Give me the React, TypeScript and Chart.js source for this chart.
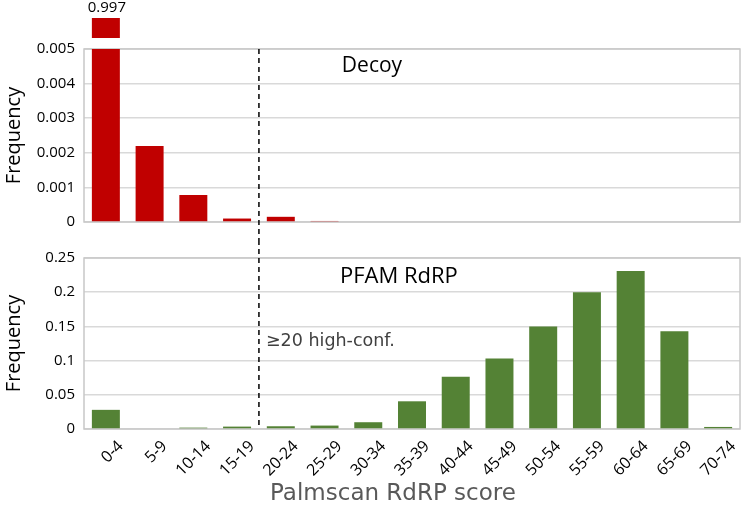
import React, { useEffect, useRef } from "react";
import { Chart, registerables } from "chart.js";

Chart.register(...registerables);

const categories = ["0-4", "5-9", "10-14", "15-19", "20-24", "25-29", "30-34", "35-39", "40-44", "45-49", "50-54", "55-59", "60-64", "65-69", "70-74"];
const decoyFreq = [0.997, 0.0022, 0.00078, 0.0001, 0.00015, 0.00003, 0, 0, 0, 0, 0, 0, 0, 0, 0];
const pfamFreq = [0.028, 0, 0.002, 0.0035, 0.004, 0.005, 0.0099, 0.0405, 0.0765, 0.103, 0.15, 0.2, 0.231, 0.143, 0.003];
const decoyMax = 0.005;
const decoyStep = 0.001;
const pfamMax = 0.25;
const pfamStep = 0.05;
const thresholdIndex = 4; // first category of the high-confidence region ("20-24")
const decoyLabel = "Decoy";
const pfamLabel = "PFAM RdRP";
const thresholdLabel = "\u226520 high-conf.";
const xTitle = "Palmscan RdRP score";
const yTitle = "Frequency";

const RED = "#C00000";
const GREEN = "#548235";
const GRID = "#D9D9D9";
const FRAME = "#C8C8C8";
const OPEN = "'Open Sans', sans-serif";
const DEJA = "'DejaVu Sans', sans-serif";

function thresholdX(chart: any) {
  const x = chart.scales.x;
  return (x.getPixelForValue(thresholdIndex - 1) + x.getPixelForValue(thresholdIndex)) / 2;
}

function framePlugin(isTop: boolean) {
  return {
    id: "frame" + (isTop ? "Top" : "Bottom"),
    beforeDatasetsDraw(chart: any) {
      const { ctx, chartArea: a } = chart;
      ctx.save();
      ctx.strokeStyle = FRAME;
      ctx.lineWidth = 1.5;
      ctx.strokeRect(a.left, a.top, a.right - a.left, a.bottom - a.top);
      ctx.restore();
    },
    afterDatasetsDraw(chart: any) {
      const { ctx, chartArea: a } = chart;
      const bx = thresholdX(chart);
      ctx.save();
      ctx.strokeStyle = "#000";
      ctx.lineWidth = 1.5;
      ctx.setLineDash([5, 4]);
      ctx.beginPath();
      ctx.moveTo(bx, isTop ? a.top : 0);
      ctx.lineTo(bx, isTop ? chart.height : a.bottom);
      ctx.stroke();
      ctx.restore();
    },
  };
}

const topExtras = {
  id: "topExtras",
  afterDatasetsDraw(chart: any) {
    const { ctx, chartArea: a } = chart;
    const y = chart.scales.y;
    const meta = chart.getDatasetMeta(0);
    ctx.save();
    decoyFreq.forEach((v, i) => {
      if (v > decoyMax) {
        const el: any = meta.data[i];
        const w = el.width;
        ctx.fillStyle = RED;
        ctx.fillRect(el.x - w / 2, a.top - 31, w, 20);
        ctx.fillStyle = "#000";
        ctx.font = `15px ${OPEN}`;
        ctx.textAlign = "center";
        ctx.textBaseline = "middle";
        ctx.fillText(String(v), el.x + 1, a.top - 41);
      }
    });
    ctx.fillStyle = "#000";
    ctx.font = `21px ${OPEN}`;
    ctx.textAlign = "center";
    ctx.textBaseline = "middle";
    ctx.fillText(decoyLabel, a.left + 0.439 * (a.right - a.left), y.getPixelForValue(0.0045));
    ctx.restore();
  },
};

const bottomExtras = {
  id: "bottomExtras",
  afterDatasetsDraw(chart: any) {
    const { ctx, chartArea: a } = chart;
    const y = chart.scales.y;
    ctx.save();
    ctx.fillStyle = "#000";
    ctx.font = `22px ${OPEN}`;
    ctx.textAlign = "center";
    ctx.textBaseline = "middle";
    ctx.fillText(pfamLabel, a.left + 0.48 * (a.right - a.left), y.getPixelForValue(0.222));
    ctx.fillStyle = "#404040";
    ctx.font = `17.5px ${DEJA}`;
    ctx.textAlign = "left";
    ctx.fillText(thresholdLabel, thresholdX(chart) + 7, y.getPixelForValue(0.128));
    ctx.fillStyle = "#595959";
    ctx.font = `23px ${DEJA}`;
    ctx.textAlign = "center";
    ctx.fillText(xTitle, a.left + 0.471 * (a.right - a.left), chart.height - 16);
    ctx.restore();
  },
};

function fmt(digits: number) {
  return (v: any) => (Number(v) === 0 ? "0" : String(+Number(v).toFixed(digits)));
}

export default function App() {
  const topRef = useRef<HTMLCanvasElement>(null);
  const botRef = useRef<HTMLCanvasElement>(null);

  useEffect(() => {
    const top = new Chart(topRef.current as HTMLCanvasElement, {
      type: "bar",
      data: {
        labels: categories,
        datasets: [
          {
            data: decoyFreq.map((v) => Math.min(v, decoyMax)),
            backgroundColor: RED,
            categoryPercentage: 1,
            barPercentage: 0.64,
          },
        ],
      },
      options: {
        responsive: false,
        animation: false,
        layout: { padding: { top: 49, bottom: 14, right: 5, left: 0 } },
        plugins: { legend: { display: false }, tooltip: { enabled: false } },
        scales: {
          x: { display: false },
          y: {
            min: 0,
            max: decoyMax,
            ticks: { stepSize: decoyStep, callback: fmt(3), font: { family: OPEN, size: 15 }, color: "#000", padding: 9 },
            grid: { color: GRID, lineWidth: 1.5, drawTicks: false },
            border: { display: false },
            title: { display: true, text: yTitle, font: { family: OPEN, size: 20 }, color: "#000", padding: { top: 2, bottom: 0 } },
            afterFit: (s: any) => {
              s.width = 84;
            },
          },
        },
      } as any,
      plugins: [framePlugin(true), topExtras],
    });

    const bot = new Chart(botRef.current as HTMLCanvasElement, {
      type: "bar",
      data: {
        labels: categories,
        datasets: [
          {
            data: pfamFreq,
            backgroundColor: GREEN,
            categoryPercentage: 1,
            barPercentage: 0.64,
          },
        ],
      },
      options: {
        responsive: false,
        animation: false,
        layout: { padding: { top: 12, bottom: 0, right: 5, left: 0 } },
        plugins: { legend: { display: false }, tooltip: { enabled: false } },
        scales: {
          x: {
            grid: { display: false },
            border: { display: false },
            ticks: {
              minRotation: 45,
              maxRotation: 45,
              autoSkip: false,
              font: { family: OPEN, size: 16 },
              color: "#000",
              padding: 0,
              labelOffset: 15,
            },
            afterFit: (s: any) => {
              s.height = 81;
            },
          },
          y: {
            min: 0,
            max: pfamMax,
            ticks: { stepSize: pfamStep, callback: fmt(2), font: { family: OPEN, size: 15 }, color: "#000", padding: 9 },
            grid: { color: GRID, lineWidth: 1.5, drawTicks: false },
            border: { display: false },
            title: { display: true, text: yTitle, font: { family: OPEN, size: 20 }, color: "#000", padding: { top: 2, bottom: 0 } },
            afterFit: (s: any) => {
              s.width = 84;
            },
          },
        },
      } as any,
      plugins: [framePlugin(false), bottomExtras],
    });

    return () => {
      top.destroy();
      bot.destroy();
    };
  }, []);

  return (
    <div style={{ position: "fixed", left: 0, top: 0, width: 745, height: 510, background: "#fff" }}>
      <canvas ref={topRef} width={745} height={240} style={{ display: "block" }} />
      <canvas ref={botRef} width={745} height={270} style={{ display: "block" }} />
    </div>
  );
}
